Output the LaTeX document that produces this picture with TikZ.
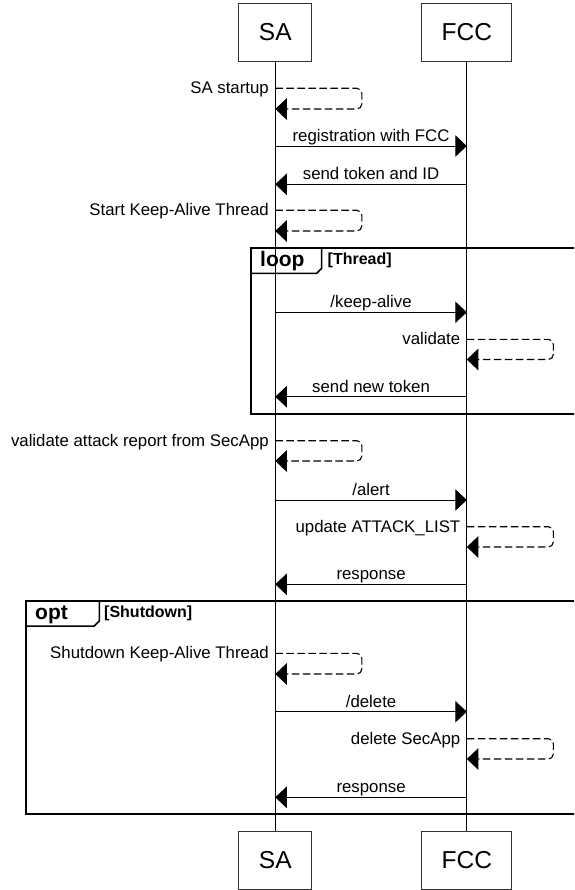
\documentclass[tikz,border=0pt]{standalone}
\usepackage{fontspec}
\setmainfont{Liberation Sans}
\usetikzlibrary{arrows.meta}

\definecolor{boxgray}{rgb}{0.2,0.2,0.2}

\tikzset{
  actor/.style={draw=boxgray, line width=1pt, inner xsep=20pt, minimum height=58pt,
    font=\fontsize{24.5}{28}\selectfont},
  lifeline/.style={line width=0.9pt},
  msg/.style={line width=0.9pt, -{Triangle[length=11.5pt,width=21.5pt]}},
  selfmsg/.style={msg, line width=1.1pt, dash pattern=on 7.5pt off 3.5pt, rounded corners=5pt},
  msgtext/.style={font=\fontsize{16.8}{20}\selectfont, inner sep=0pt},
  selftext/.style={msgtext, anchor=base east, xshift=-6pt, yshift=-5.5pt},
  fragment/.style={line width=2pt},
  fragtag/.style={line width=1.5pt},
  fragname/.style={font=\bfseries\fontsize{21}{24}\selectfont, inner sep=0pt, anchor=base west},
  guard/.style={font=\bfseries\fontsize{16}{19}\selectfont, inner sep=0pt, anchor=base west},
}

\begin{document}
\begin{tikzpicture}[x=1pt,y=-1pt]
    \useasboundingbox (0,0) rectangle (574,890);
    \clip (0,0) rectangle (574,890);
    % participants and lifelines
    \node[actor] (saTop) at (275.3,32.5) {SA};
    \node[actor] (fccTop) at (466.8,32.5) {FCC};
    \node[actor] (saBot) at (275.3,860) {SA};
    \node[actor] (fccBot) at (466.8,860) {FCC};
    \draw[lifeline] (saTop) -- (saBot);
    \draw[lifeline] (fccTop) -- (fccBot);
    % fragments
    \draw[fragment] (590,248.5) -- (250.5,248.5) -- (250.5,414) -- (590,414);
    \draw[fragtag] (250.5,273.3) -- (316.7,273.3) -- (321.7,268.3) -- (321.7,248.5);
    \node[fragname] (loopName) at (260,266.7) {loop};
    \node[guard] (loopGuard) at (327.5,264.5) {[Thread]};
    \draw[fragment] (590,601) -- (25.7,601) -- (25.7,814.3) -- (590,814.3);
    \draw[fragtag] (25.7,626) -- (94.3,626) -- (99.3,621) -- (99.3,601);
    \node[fragname] (optName) at (35,619.5) {opt};
    \node[guard] (optGuard) at (104,617) {[Shutdown]};
    % message end points
    \coordinate (boot1) at (275.3,88.3);   \coordinate (boot2) at (275.3,109);
    \coordinate (reg1) at (275.3,146);     \coordinate (reg2) at (466.8,146);
    \coordinate (tok1) at (466.8,184.3);   \coordinate (tok2) at (275.3,184.3);
    \coordinate (ka1) at (275.3,210.3);    \coordinate (ka2) at (275.3,231);
    \coordinate (alive1) at (275.3,312.3); \coordinate (alive2) at (466.8,312.3);
    \coordinate (val1) at (466.8,339.3);   \coordinate (val2) at (466.8,359.5);
    \coordinate (new1) at (466.8,396.7);   \coordinate (new2) at (275.3,396.7);
    \coordinate (rep1) at (275.3,440.7);   \coordinate (rep2) at (275.3,461);
    \coordinate (alert1) at (275.3,500);   \coordinate (alert2) at (466.8,500);
    \coordinate (upd1) at (466.8,526.7);   \coordinate (upd2) at (466.8,547);
    \coordinate (resp1) at (466.8,584.3);  \coordinate (resp2) at (275.3,584.3);
    \coordinate (stop1) at (275.3,653.3);  \coordinate (stop2) at (275.3,674);
    \coordinate (del1) at (275.3,711.7);   \coordinate (del2) at (466.8,711.7);
    \coordinate (sec1) at (466.8,738.7);   \coordinate (sec2) at (466.8,759);
    \coordinate (last1) at (466.8,797.3);  \coordinate (last2) at (275.3,797.3);
    % messages
    \draw[selfmsg] (boot1) node[selftext] (bootLbl) {SA startup} -| ++(86.5,10) |- (boot2);
    \draw[msg] (reg1) -- node[msgtext, anchor=base, yshift=4.5pt] (regLbl) {registration with FCC} (reg2);
    \draw[msg] (tok1) -- node[msgtext, anchor=base, yshift=4.5pt] (tokLbl) {send token and ID} (tok2);
    \draw[selfmsg] (ka1) node[selftext] (kaLbl) {Start Keep-Alive Thread} -| ++(86.5,10) |- (ka2);
    \draw[msg] (alive1) -- node[msgtext, anchor=base, yshift=4.5pt] (aliveLbl) {/keep-alive} (alive2);
    \draw[selfmsg] (val1) node[selftext] (valLbl) {validate} -| ++(86.5,10) |- (val2);
    \draw[msg] (new1) -- node[msgtext, anchor=base, yshift=4.5pt] (newLbl) {send new token} (new2);
    \draw[selfmsg] (rep1) node[selftext] (repLbl) {validate attack report from SecApp} -| ++(86.5,10) |- (rep2);
    \draw[msg] (alert1) -- node[msgtext, anchor=base, yshift=4.5pt] (alertLbl) {/alert} (alert2);
    \draw[selfmsg] (upd1) node[selftext] (updLbl) {update ATTACK\_LIST} -| ++(86.5,10) |- (upd2);
    \draw[msg] (resp1) -- node[msgtext, anchor=base, yshift=4.5pt] (respLbl) {response} (resp2);
    \draw[selfmsg] (stop1) node[selftext] (stopLbl) {Shutdown Keep-Alive Thread} -| ++(86.5,10) |- (stop2);
    \draw[msg] (del1) -- node[msgtext, anchor=base, yshift=4.5pt] (delLbl) {/delete} (del2);
    \draw[selfmsg] (sec1) node[selftext] (secLbl) {delete SecApp} -| ++(86.5,10) |- (sec2);
    \draw[msg] (last1) -- node[msgtext, anchor=base, yshift=4.5pt] (lastLbl) {response} (last2);
\end{tikzpicture}
\end{document}
